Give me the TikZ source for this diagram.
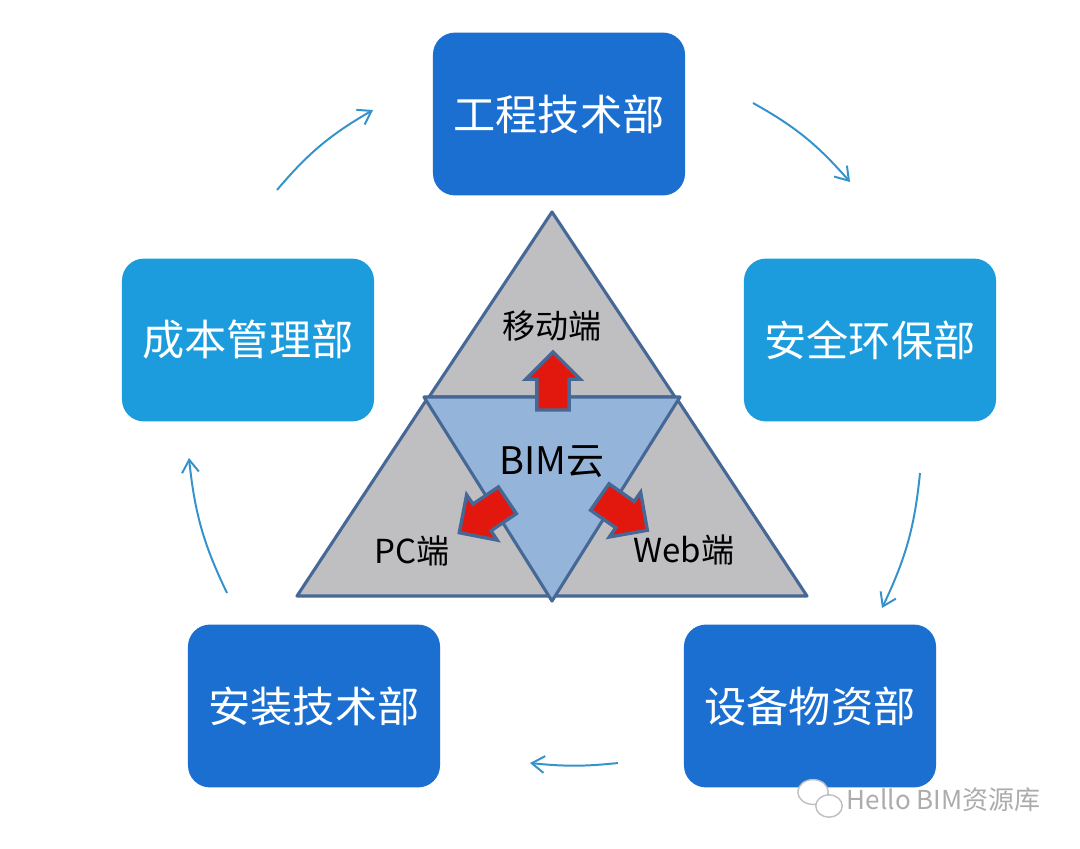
\documentclass[tikz,border=0pt]{standalone}
\usepackage{fontspec}
\setmainfont{Noto Sans CJK SC}
\usepackage{tikz}
\usetikzlibrary{arrows.meta,bending,shapes.arrows}

\definecolor{deptdark}{RGB}{27,111,208}
\definecolor{deptlight}{RGB}{28,156,220}
\definecolor{edgeblue}{RGB}{70,104,150}
\definecolor{partgray}{RGB}{191,191,193}
\definecolor{cloudblue}{RGB}{149,180,218}
\definecolor{arrowred}{RGB}{226,24,14}
\definecolor{flowblue}{RGB}{52,146,204}

\tikzset{
  dept/.style={rounded corners=0.55cm, minimum width=6.3cm, minimum height=4.07cm,
    text=white, font=\fontsize{30}{36}\selectfont},
  part/.style={draw=edgeblue, line width=2.2pt, line join=round, fill=partgray},
  redarrow/.style={single arrow, draw=edgeblue, line width=2.4pt, fill=arrowred,
    inner sep=0.36cm, minimum width=1.2cm, single arrow head extend=0.28cm,
    minimum height=1.45cm},
  flow/.style={draw=flowblue, line width=1.4pt, -{Straight Barb[length=9pt,width=12pt]}},
  endlabel/.style={font=\fontsize{23.5}{28}\selectfont}
}

\begin{document}
\begin{tikzpicture}[x=0.025cm,y=-0.025cm]
		\useasboundingbox[fill=white] (0,0) rectangle (1080,849);
		
		\node[dept, fill=deptdark] (gongcheng) at (559,114) {工程技术部};
		\node[dept, fill=deptlight] (anquan) at (870,340) {安全环保部};
		\node[dept, fill=deptdark] (shebei) at (810,706) {设备物资部};
		\node[dept, fill=deptdark] (anzhuang) at (314,706) {安装技术部};
		\node[dept, fill=deptlight] (chengben) at (248,340) {成本管理部};
		
		\draw[part] (552,212) -- (675,397) -- (429,397) -- cycle;
		\draw[part] (427,399) -- (297,596) -- (552,596) -- cycle;
		\draw[part] (677,399) -- (552,596) -- (807,596) -- cycle;
		\draw[part, fill=cloudblue] (424,397) -- (680,397) -- (552,601) -- cycle;
		
		\node[redarrow, rotate=90] (toMobile) at (553,389) {};
		\node[redarrow, rotate=214] (toPC) at (490,512) {};
		\node[redarrow, rotate=325] (toWeb) at (617,509) {};
		
		\node[endlabel] (mobile) at (552,326) {移动端};
		\node[font=\fontsize{27}{32}\selectfont] (cloud) at (552,462) {BIM云};
		\node[endlabel] (pc) at (412,551) {PC端};
		\node[endlabel] (web) at (684,550) {Web端};
		
		\coordinate (f1s) at (277,190);
		\coordinate (f1e) at (373,110);
		\coordinate (f2s) at (753,103);
		\coordinate (f2e) at (850,182);
		\coordinate (f3s) at (920,473);
		\coordinate (f3e) at (882,608);
		\coordinate (f4s) at (618,763);
		\coordinate (f4e) at (530,763);
		\coordinate (f5s) at (227,593);
		\coordinate (f5e) at (189,458);
		\draw[flow] (f1s) to[bend left=10] (f1e);
		\draw[flow] (f2s) to[bend left=10] (f2e);
		\draw[flow] (f3s) to[bend left=10] (f3e);
		\draw[flow] (f4s) to[bend left=6] (f4e);
		\draw[flow] (f5s) to[bend left=10] (f5e);
		
		\draw[gray!50, fill=white, line width=1pt] (813,792) ellipse (0.38cm and 0.31cm);
		\draw[gray!50, fill=white, line width=1pt] (829,806) ellipse (0.33cm and 0.28cm);
		\node[text=gray!65, anchor=west, font=\fontsize{18.5}{22}\selectfont] (mark) at (842,800) {Hello BIM资源库};
	\end{tikzpicture}
\end{document}
